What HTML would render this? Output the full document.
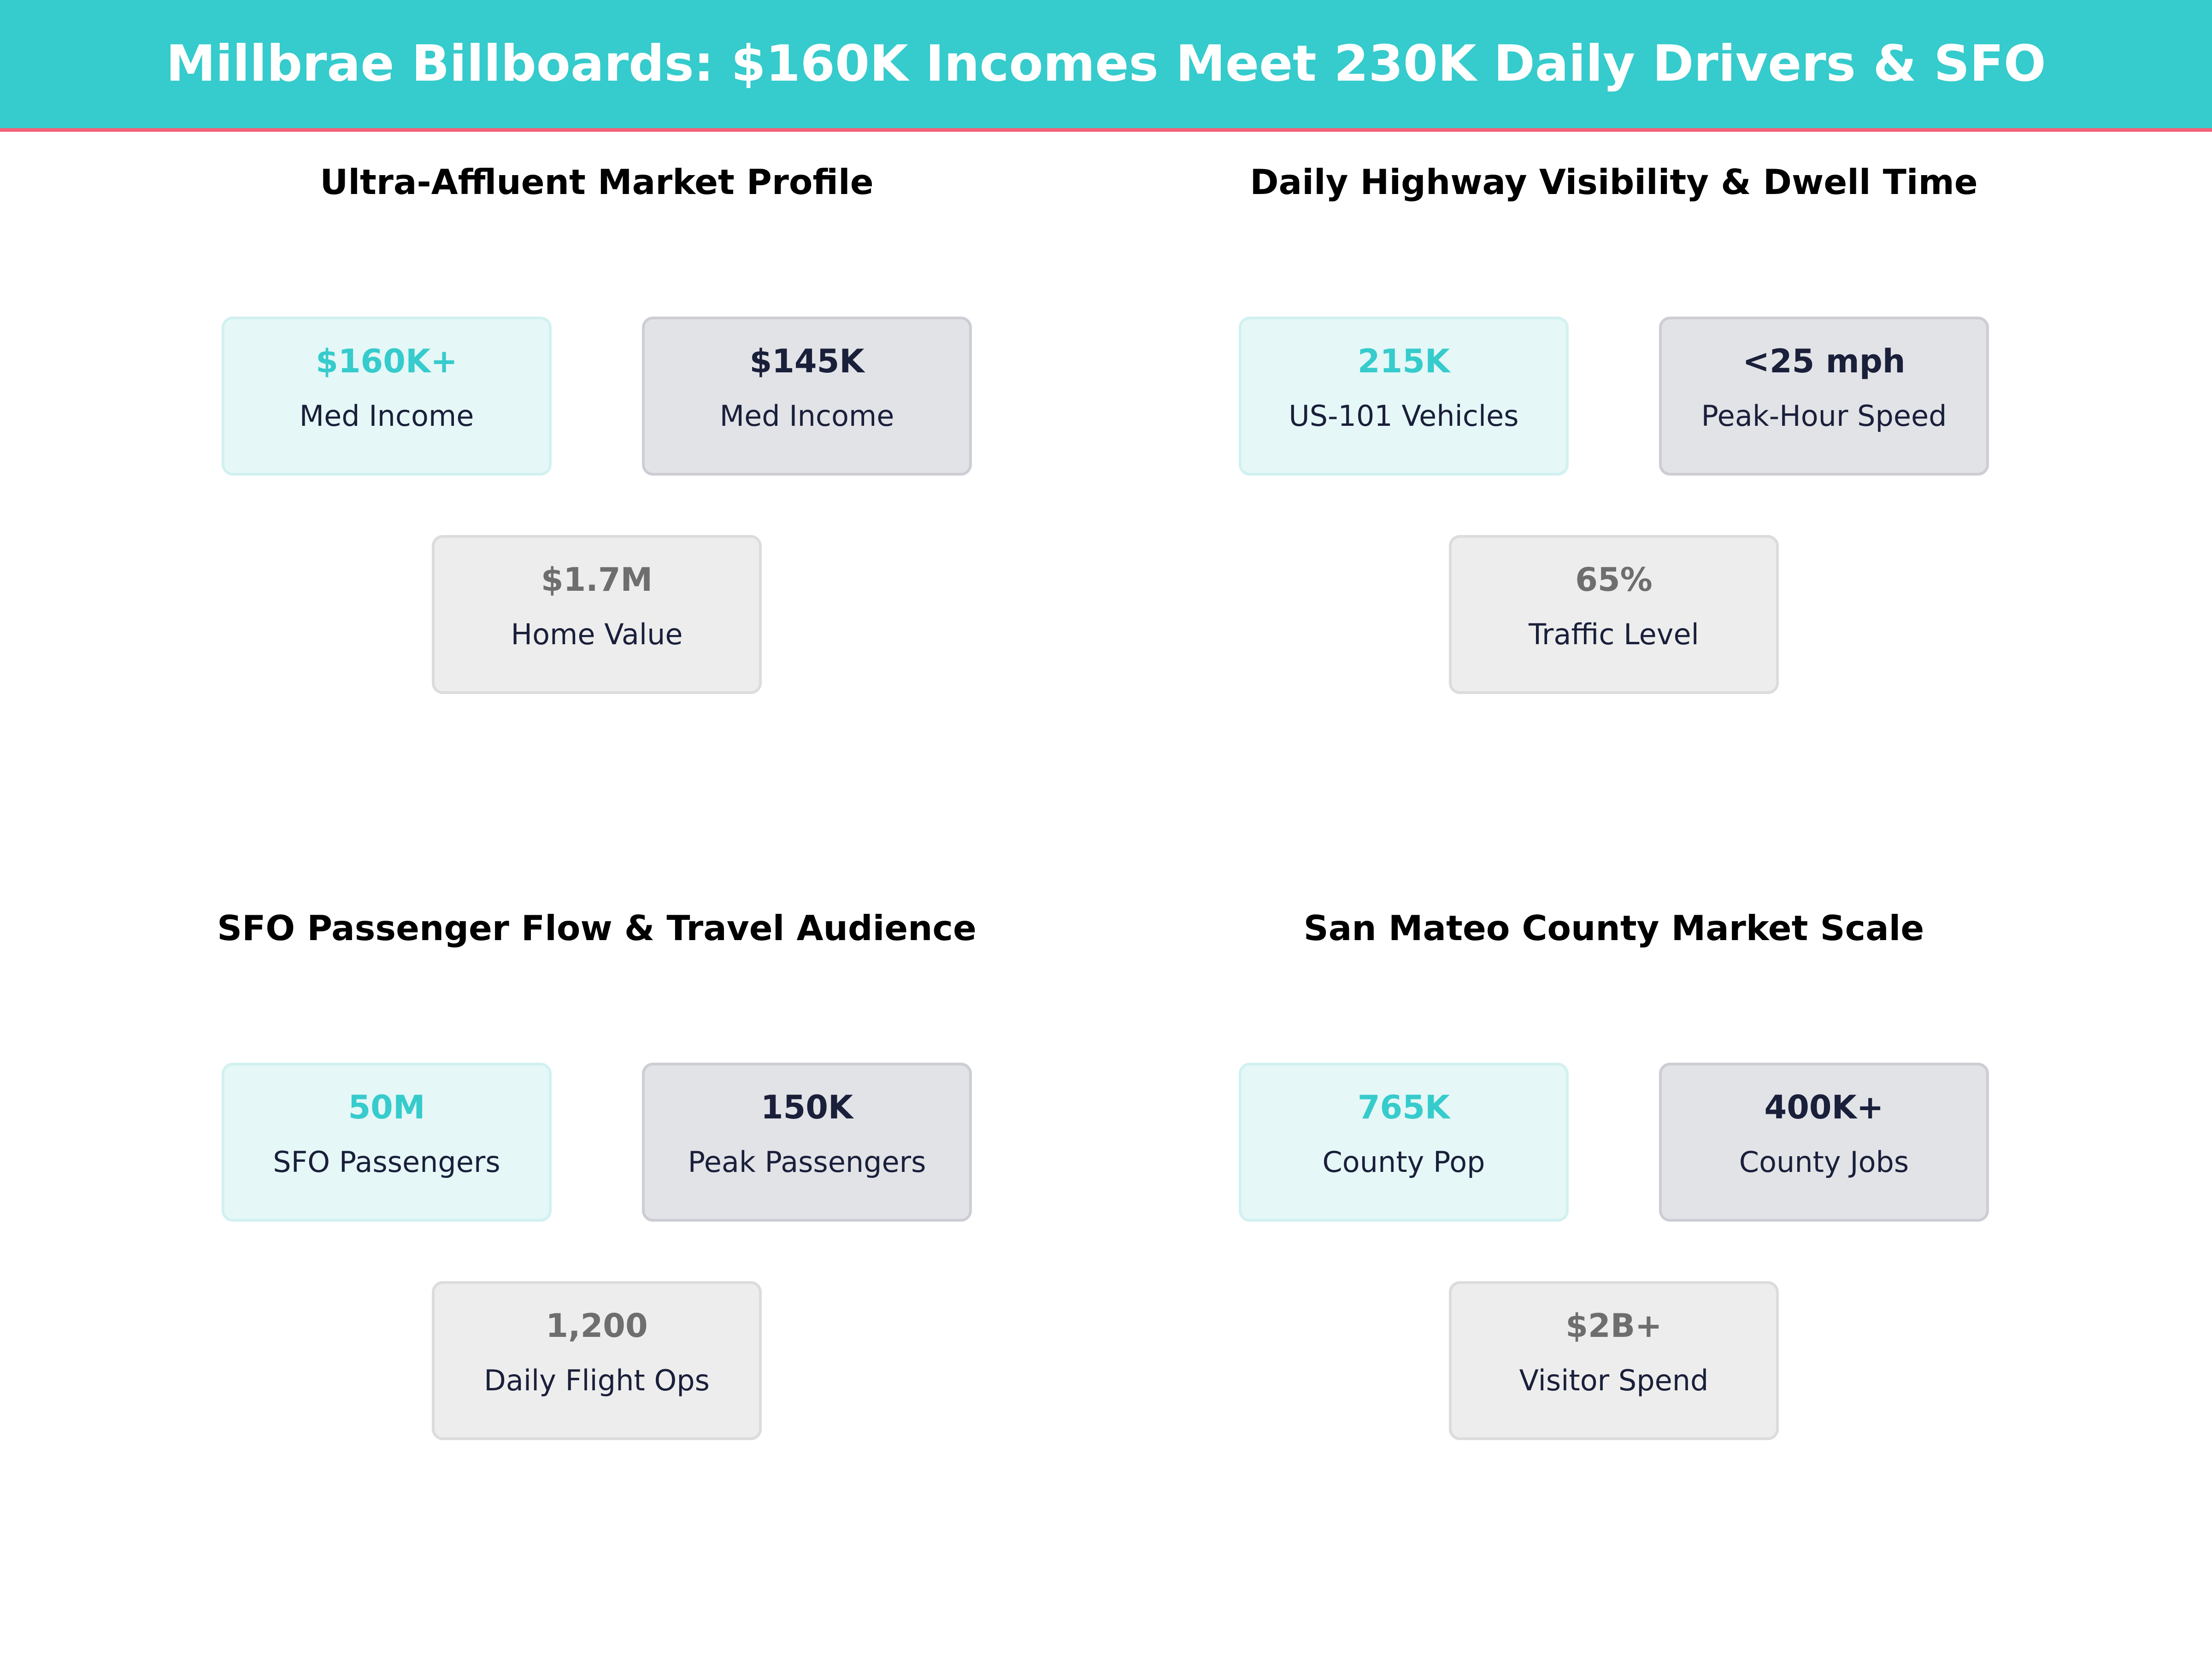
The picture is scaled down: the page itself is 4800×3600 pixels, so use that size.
<!DOCTYPE html>
<html><head><meta charset="utf-8"><style>
body{margin:0;width:4800px;height:3600px;background:#fff;position:relative;overflow:hidden;font-family:"DejaVu Sans","Liberation Sans",sans-serif;}
.hdr{position:absolute;left:0;top:0;width:4800px;height:278px;background:#36cbcc;}
.red{position:absolute;left:0;top:278px;width:4800px;height:8px;background:#f0627a;}
.title{position:absolute;left:0;top:0;width:4800px;height:278px;line-height:278px;text-align:center;color:#fff;font-weight:bold;font-size:108px;}
.st{position:absolute;width:2400px;text-align:center;font-weight:bold;font-size:75px;color:#000;line-height:80px;}
.c{position:absolute;width:704px;height:333px;border:6px solid;border-radius:24px;text-align:center;}
.c .v{position:absolute;left:0;right:0;top:46px;font-weight:bold;font-size:70px;line-height:90px;}
.c .l{position:absolute;left:0;right:0;top:170px;font-size:62px;line-height:80px;color:#1a1f3a;}
.a{background:#e5f7f7;border-color:#d2f1f1;}.a .v{color:#36cbcc;}
.b{background:#e2e3e7;border-color:#cdcdd4;}.b .v{color:#1a1f3a;}
.g{background:#ededed;border-color:#dcdcdc;}.g .v{color:#6e6e6e;}
</style></head><body>
<div class="hdr"></div><div class="red"></div>
<div class="title">Millbrae Billboards: $160K Incomes Meet 230K Daily Drivers &amp; SFO</div>

<div class="st" style="left:95px;top:355px">Ultra-Affluent Market Profile</div>
<div class="st" style="left:2302px;top:355px">Daily Highway Visibility &amp; Dwell Time</div>
<div class="st" style="left:95px;top:1974px">SFO Passenger Flow &amp; Travel Audience</div>
<div class="st" style="left:2302px;top:1974px">San Mateo County Market Scale</div>

<div class="c a" style="left:481px;top:687px"><div class="v">$160K+</div><div class="l">Med Income</div></div>
<div class="c b" style="left:1393px;top:687px"><div class="v">$145K</div><div class="l">Med Income</div></div>
<div class="c g" style="left:937px;top:1161px"><div class="v">$1.7M</div><div class="l">Home Value</div></div>

<div class="c a" style="left:2688px;top:687px"><div class="v">215K</div><div class="l">US-101 Vehicles</div></div>
<div class="c b" style="left:3600px;top:687px"><div class="v">&lt;25 mph</div><div class="l">Peak-Hour Speed</div></div>
<div class="c g" style="left:3144px;top:1161px"><div class="v">65%</div><div class="l">Traffic Level</div></div>

<div class="c a" style="left:481px;top:2306px"><div class="v">50M</div><div class="l">SFO Passengers</div></div>
<div class="c b" style="left:1393px;top:2306px"><div class="v">150K</div><div class="l">Peak Passengers</div></div>
<div class="c g" style="left:937px;top:2780px"><div class="v">1,200</div><div class="l">Daily Flight Ops</div></div>

<div class="c a" style="left:2688px;top:2306px"><div class="v">765K</div><div class="l">County Pop</div></div>
<div class="c b" style="left:3600px;top:2306px"><div class="v">400K+</div><div class="l">County Jobs</div></div>
<div class="c g" style="left:3144px;top:2780px"><div class="v">$2B+</div><div class="l">Visitor Spend</div></div>
</body></html>
